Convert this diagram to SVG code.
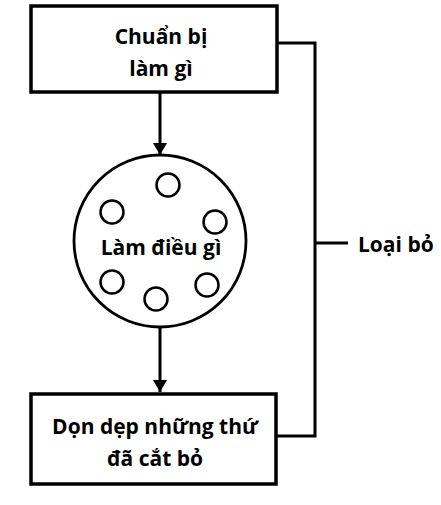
<svg xmlns="http://www.w3.org/2000/svg" width="441" height="505" viewBox="0 0 441 505">
<style>
.box{fill:#fff;stroke:#000;stroke-width:3.5}
.ln{fill:none;stroke:#000;stroke-width:3}
.dot{fill:none;stroke:#000;stroke-width:2.5}
.t{font-family:"Open Sans","Liberation Sans",sans-serif;font-weight:bold;font-size:21px;fill:#000;text-anchor:middle}
</style>
<defs>
<marker id="ah" markerWidth="12" markerHeight="14" refX="12" refY="7" orient="auto" markerUnits="userSpaceOnUse">
<path d="M0,0 L12,7 L0,14 Z" fill="#000"/>
</marker>
</defs>
<rect width="441" height="505" fill="#fff"/>
<g id="connectors">
<line class="ln" x1="160" y1="92" x2="160" y2="155" marker-end="url(#ah)"/>
<line class="ln" x1="160" y1="327" x2="160" y2="392" marker-end="url(#ah)"/>
<polyline class="ln" points="277,43 315,43 315,436 277,436"/>
<line class="ln" x1="315" y1="243" x2="348" y2="243"/>
</g>
<g id="prepare">
<rect class="box" x="31" y="6" width="246" height="86"/>
<text class="t" x="161" y="44">Chuẩn bị</text>
<text class="t" x="161" y="76">làm gì</text>
</g>
<g id="do">
<circle cx="160" cy="241" r="86" fill="#fff" stroke="#000" stroke-width="2.8"/>
<circle class="dot" cx="168" cy="185" r="11.5"/>
<circle class="dot" cx="112" cy="212" r="11.5"/>
<circle class="dot" cx="215" cy="222" r="11.5"/>
<circle class="dot" cx="112" cy="282" r="11.5"/>
<circle class="dot" cx="156" cy="299" r="11.5"/>
<circle class="dot" cx="207" cy="285" r="11.5"/>
<text class="t" x="161" y="255">Làm điều gì</text>
</g>
<g id="cleanup">
<rect class="box" x="31" y="394" width="245" height="90"/>
<text class="t" x="155" y="434">Dọn dẹp những thứ</text>
<text class="t" x="155" y="466">đã cắt bỏ</text>
</g>
<g id="remove">
<text class="t" x="358" y="252" style="text-anchor:start">Loại bỏ</text>
</g>
</svg>
